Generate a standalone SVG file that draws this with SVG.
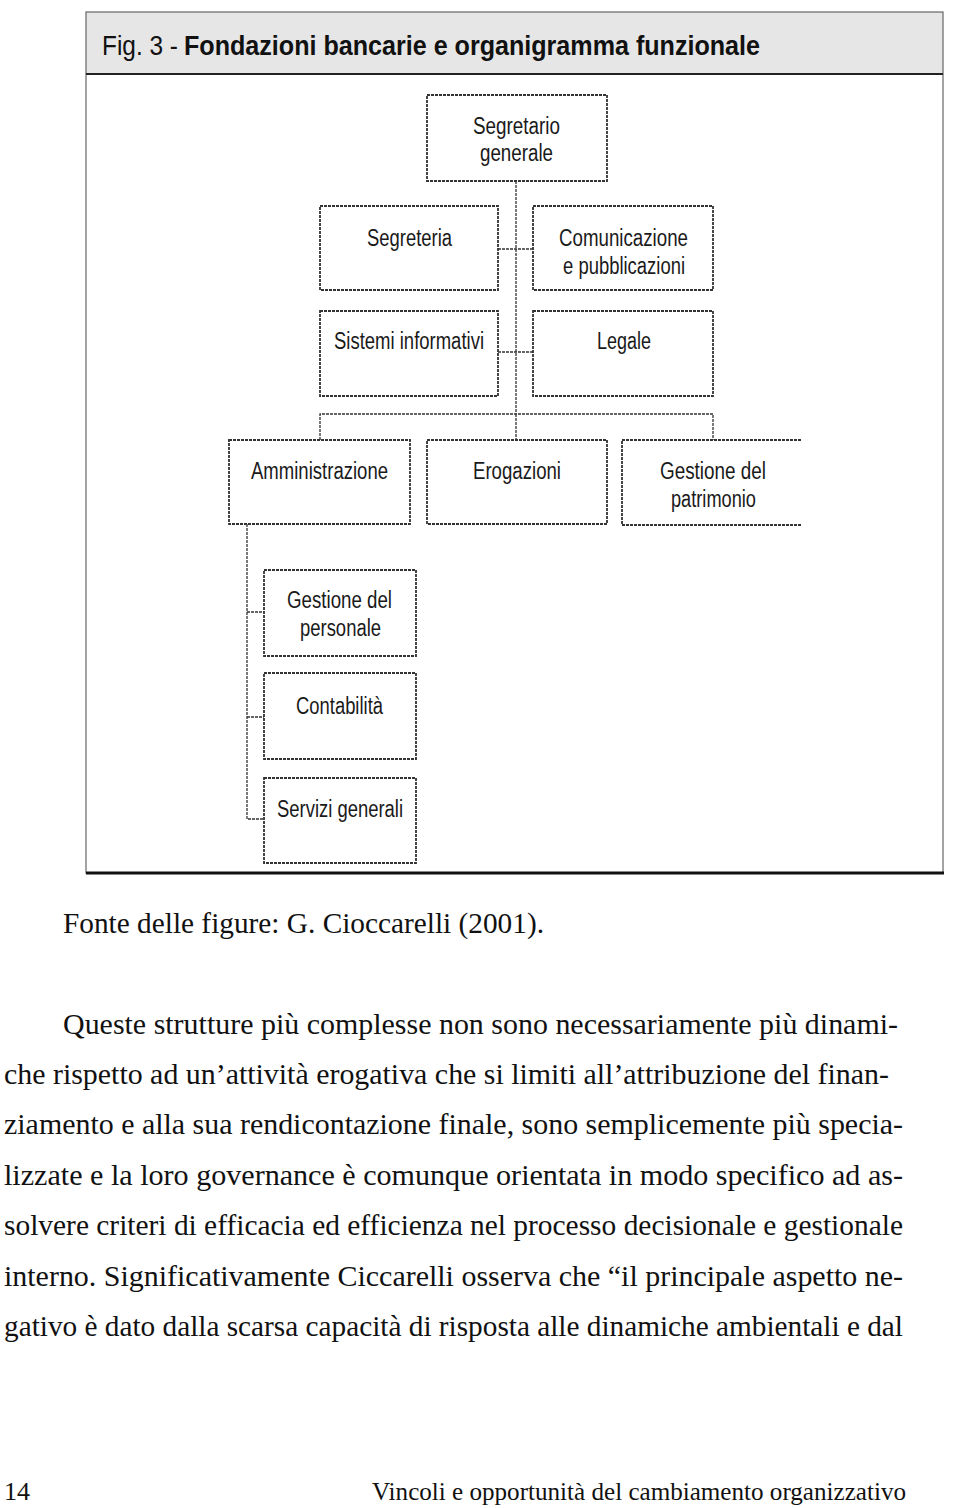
<svg xmlns="http://www.w3.org/2000/svg" width="960" height="1508" viewBox="0 0 960 1508">
<style>
.box{fill:#fff;stroke:#333;stroke-width:1.8;stroke-dasharray:3 1}
.lbl{font-family:"Liberation Sans",Arial,sans-serif;font-size:23px;fill:#1a1a1a;text-anchor:start}
.con{fill:none;stroke:#333;stroke-width:1.3;stroke-dasharray:3 1}
.body{font-family:"Liberation Serif","Times New Roman",serif;font-size:29px;fill:#111}
.foot{font-family:"Liberation Serif","Times New Roman",serif;font-size:26px;fill:#111}
.ttl{font-family:"Liberation Sans",Arial,sans-serif;font-size:28px;fill:#111}
</style>
<rect x="0" y="0" width="960" height="1508" fill="#fff"/>
<g id="frame">
<rect x="86" y="12" width="857" height="62" fill="#e6e6e6"/>
<rect x="86" y="12" width="857" height="861" fill="none" stroke="#666" stroke-width="1.2"/>
<line x1="86" y1="74" x2="943" y2="74" stroke="#222" stroke-width="2"/>
<line x1="86" y1="873" x2="944" y2="873" stroke="#111" stroke-width="3"/>
<text class="ttl" x="102" y="55" textLength="76" lengthAdjust="spacingAndGlyphs">Fig. 3 -</text>
<text class="ttl" x="184" y="55" font-weight="bold" textLength="576" lengthAdjust="spacingAndGlyphs">Fondazioni bancarie e organigramma funzionale</text>
</g>
<g id="connectors">
<path class="con" d="M516 181 V414"/>
<path class="con" d="M320 440 V414 H713 V440"/>
<path class="con" d="M516 414 V440"/>
<path class="con" d="M498 249 H533"/>
<path class="con" d="M498 352 H533"/>
<path class="con" d="M247 524 V819 H264"/>
<path class="con" d="M247 612 H264"/>
<path class="con" d="M247 717 H264"/>
</g>
<g id="segretario">
<rect class="box" x="427" y="95" width="180" height="86"/>
<text class="lbl" x="473" y="134" textLength="87" lengthAdjust="spacingAndGlyphs">Segretario</text>
<text class="lbl" x="480" y="161" textLength="73" lengthAdjust="spacingAndGlyphs">generale</text>
</g>
<g id="segreteria">
<rect class="box" x="320" y="206" width="178" height="84"/>
<text class="lbl" x="367" y="246" textLength="85" lengthAdjust="spacingAndGlyphs">Segreteria</text>
</g>
<g id="comunicazione">
<rect class="box" x="533" y="206" width="180" height="84"/>
<text class="lbl" x="559" y="246" textLength="129" lengthAdjust="spacingAndGlyphs">Comunicazione</text>
<text class="lbl" x="563" y="274" textLength="122" lengthAdjust="spacingAndGlyphs">e pubblicazioni</text>
</g>
<g id="sistemi">
<rect class="box" x="320" y="311" width="178" height="85"/>
<text class="lbl" x="334" y="349" textLength="150" lengthAdjust="spacingAndGlyphs">Sistemi informativi</text>
</g>
<g id="legale">
<rect class="box" x="533" y="311" width="180" height="85"/>
<text class="lbl" x="597" y="349" textLength="54" lengthAdjust="spacingAndGlyphs">Legale</text>
</g>
<g id="amministrazione">
<rect class="box" x="229" y="440" width="181" height="84"/>
<text class="lbl" x="251" y="479" textLength="137" lengthAdjust="spacingAndGlyphs">Amministrazione</text>
</g>
<g id="erogazioni">
<rect class="box" x="427" y="440" width="180" height="84"/>
<text class="lbl" x="473" y="479" textLength="88" lengthAdjust="spacingAndGlyphs">Erogazioni</text>
</g>
<g id="patrimonio">
<path class="box" d="M801 440 H622 V525 H801"/>
<text class="lbl" x="660" y="479" textLength="106" lengthAdjust="spacingAndGlyphs">Gestione del</text>
<text class="lbl" x="671" y="507" textLength="85" lengthAdjust="spacingAndGlyphs">patrimonio</text>
</g>
<g id="personale">
<rect class="box" x="264" y="570" width="152" height="86"/>
<text class="lbl" x="287" y="608" textLength="105" lengthAdjust="spacingAndGlyphs">Gestione del</text>
<text class="lbl" x="300" y="636" textLength="81" lengthAdjust="spacingAndGlyphs">personale</text>
</g>
<g id="contabilita">
<rect class="box" x="264" y="673" width="152" height="86"/>
<text class="lbl" x="296" y="714" textLength="87" lengthAdjust="spacingAndGlyphs">Contabilità</text>
</g>
<g id="servizi">
<rect class="box" x="264" y="778" width="152" height="85"/>
<text class="lbl" x="277" y="817" textLength="126" lengthAdjust="spacingAndGlyphs">Servizi generali</text>
</g>
<g id="text">
<text class="body" x="63" y="933" textLength="481" lengthAdjust="spacingAndGlyphs">Fonte delle figure: G. Cioccarelli (2001).</text>
<text class="body" x="63" y="1034" textLength="835" lengthAdjust="spacingAndGlyphs">Queste strutture più complesse non sono necessariamente più dinami-</text>
<text class="body" x="4" y="1084" textLength="885" lengthAdjust="spacingAndGlyphs">che  rispetto ad un’attività  erogativa che si limiti all’attribuzione del finan-</text>
<text class="body" x="4" y="1134" textLength="899" lengthAdjust="spacingAndGlyphs">ziamento e alla sua rendicontazione finale,  sono semplicemente più specia-</text>
<text class="body" x="4" y="1185" textLength="899" lengthAdjust="spacingAndGlyphs">lizzate e la loro governance è comunque orientata in modo specifico ad as-</text>
<text class="body" x="4" y="1235" textLength="899" lengthAdjust="spacingAndGlyphs">solvere criteri di efficacia ed efficienza nel processo decisionale e gestionale</text>
<text class="body" x="4" y="1286" textLength="899" lengthAdjust="spacingAndGlyphs">interno. Significativamente Ciccarelli osserva che “il principale aspetto ne-</text>
<text class="body" x="4" y="1336" textLength="899" lengthAdjust="spacingAndGlyphs">gativo è dato dalla scarsa capacità di risposta alle dinamiche ambientali e dal</text>
<text class="foot" x="4" y="1500" textLength="26" lengthAdjust="spacingAndGlyphs">14</text>
<text class="foot" x="372" y="1500" textLength="534" lengthAdjust="spacingAndGlyphs">Vincoli e opportunità del cambiamento organizzativo</text>
</g>
</svg>
